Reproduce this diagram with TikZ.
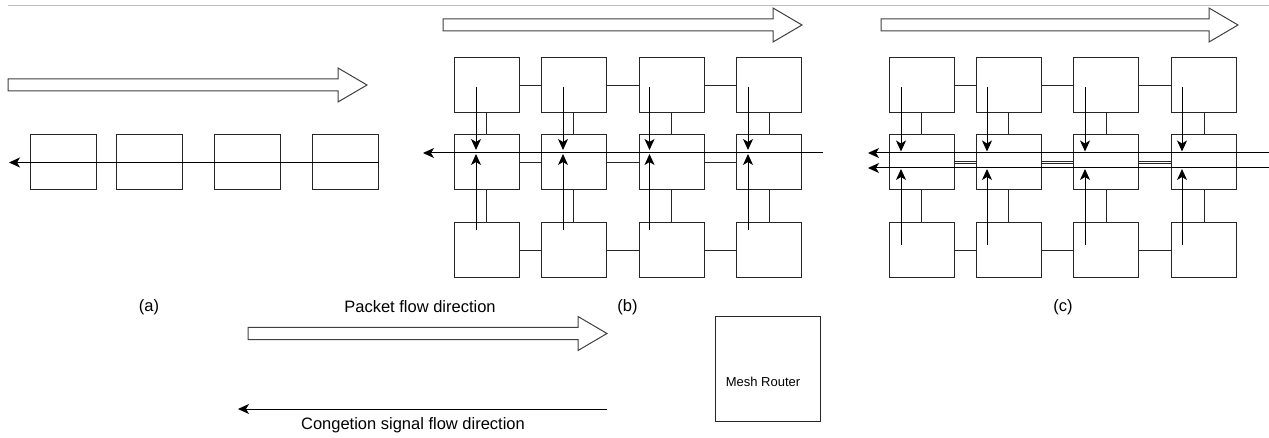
\documentclass[tikz,border=0pt]{standalone}
\usepackage{fontspec}
\setmainfont{Liberation Sans}
\usetikzlibrary{arrows.meta}
% hollow block arrow: left end, tip, middle height
\newcommand{\flowarrow}[3]{%
  \draw[flow] (#1,{#3-6}) -- ({#2-29},{#3-6}) -- ({#2-29},{#3-17}) -- (#2,#3)
    -- ({#2-29},{#3+17}) -- ({#2-29},{#3+6}) -- (#1,{#3+6}) -- cycle;}

\begin{document}
\begin{tikzpicture}[
  x=1pt, y=-1pt,
  font=\fontsize{16.5}{19}\selectfont,
  router/.style={draw=black!85, line width=1pt, minimum width=65pt, minimum height=55pt, inner sep=0pt},
  link/.style={draw=black!85, line width=1pt},
  sig/.style={-{Stealth[length=11pt,width=10pt,inset=3pt]}, line width=1pt},
  flow/.style={draw=black!75, fill=white, line width=1pt}
]
\useasboundingbox (0,0) rectangle (1269,438);
\draw[gray!50, line width=1pt] (8,6) -- (1269,6);

% (a) chain of routers
\flowarrow{8}{367}{85}
\foreach \i/\x in {1/63,2/149.5,3/247,4/345}
  \node[router, minimum width=66pt] (a\i) at (\x,162.5) {};
\coordinate (aL) at (9,162.5);
\draw[sig] (a4.east) -- (aL);

% (b) grid, one signal line
\flowarrow{443}{802}{25}
\foreach \c/\x in {1/486.5,2/573.5,3/671.5,4/769}
  \foreach \r/\y in {t/85.5,m/162.5,b/250.5}
    \node[router] (b\r\c) at (\x,\y) {};
\foreach \r in {t,m,b}
  \foreach \c/\n in {1/2,2/3,3/4}
    \draw[link] (b\r\c) -- (b\r\n);
\foreach \c in {1,...,4} {
  \draw[link] (bt\c) -- (bm\c);
  \draw[link] (bm\c) -- (bb\c);
}
\coordinate (bsR) at (823,153);
\coordinate (bsL) at (423,153);
\draw[sig] (bsR) -- (bsL);
\foreach \c/\d in {1/10.5,2/10.5,3/22,4/21} {
  \draw[sig] ([xshift=-\d pt, yshift=-1.5pt]bt\c.center) -- ++(0,63);
  \draw[sig] ([xshift=-\d pt, yshift=20pt]bb\c.center) -- ++(0,-76.5);
}

% (c) grid, two signal lines
\flowarrow{881}{1238}{25}
\foreach \c/\x in {1/921.5,2/1008.5,3/1106,4/1204}
  \foreach \r/\y in {t/85.5,m/162.5,b/250.5}
    \node[router] (c\r\c) at (\x,\y) {};
\foreach \c/\n in {1/2,2/3,3/4} {
  \draw[link] (ct\c) -- (ct\n);
  \draw[link, double, double distance=1.4pt, line width=0.7pt] (cm\c) -- (cm\n);
  \draw[link] (cb\c) -- (cb\n);
}
\foreach \c in {1,...,4} {
  \draw[link] (ct\c) -- (cm\c);
  \draw[link] (cm\c) -- (cb\c);
}
\coordinate (cuR) at (1269,153);
\coordinate (cuL) at (868,153);
\coordinate (clR) at (1269,168);
\coordinate (clL) at (868,168);
\draw[sig] (cuR) -- (cuL);
\draw[sig] (clR) -- (clL);
\foreach \c/\d in {1/20.5,2/21.5,3/21,4/22} {
  \draw[sig] ([xshift=-\d pt, yshift=-1.5pt]ct\c.center) -- ++(0,64.5);
  \draw[sig] ([xshift=-\d pt, yshift=5.5pt]cb\c.center) -- ++(0,-76);
}

% captions
\node (capa) at (149,307) {(a)};
\node (capb) at (627.5,307) {(b)};
\node (capc) at (1063,307) {(c)};

% legend
\node (pkt) at (420,307) {Packet flow direction};
\flowarrow{248}{607}{333.5}
\coordinate (cgR) at (607,409);
\coordinate (cgL) at (238,409);
\draw[sig] (cgR) -- (cgL);
\node (cgt) at (413,425) {Congetion signal flow direction};
\node[router, minimum width=105pt, minimum height=104pt] (legbox) at (767.5,369) {};
\node[font=\fontsize{13}{15}\selectfont] (legtxt) at (763,382) {Mesh Router};
\end{tikzpicture}
\end{document}
